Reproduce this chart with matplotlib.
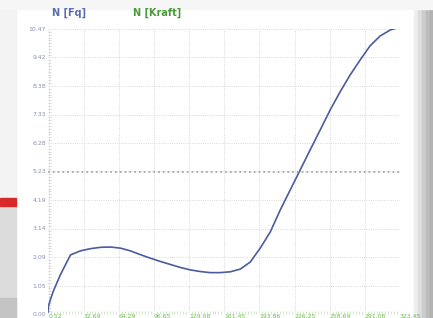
import numpy as np
import matplotlib.pyplot as plt
from matplotlib.patches import Rectangle

# curve (x in tick units, y in N)
x_vals = [0.0, 0.5, 2.4, 5.0, 11.5, 20.7, 29.9, 39.0, 48.2, 57.4, 66.5, 75.7,
          84.9, 94.1, 103.3, 112.4, 121.6, 130.8, 140.0, 149.1, 158.3, 167.5,
          176.7, 185.9, 195.0, 204.2, 213.4, 222.6, 231.7, 240.9, 250.1, 259.2,
          268.4, 277.6, 286.8, 295.9, 305.1, 314.3, 320.7]
y_vals = [0.07, 0.30, 0.55, 0.85, 1.45, 2.17, 2.32, 2.40, 2.45, 2.46, 2.42, 2.32,
          2.18, 2.05, 1.93, 1.82, 1.71, 1.62, 1.56, 1.52, 1.52, 1.55,
          1.65, 1.91, 2.42, 3.01, 3.82, 4.56, 5.29, 6.03, 6.76, 7.49,
          8.16, 8.78, 9.33, 9.85, 10.21, 10.43, 10.51]

x_labels = ["0.52", "32.69", "64.29", "96.65", "129.08", "161.45",
            "193.86", "226.25", "258.69", "291.08", "323.45"]
y_labels = ["0.00", "1.05", "2.09", "3.14", "4.19", "5.23",
            "6.28", "7.33", "8.38", "9.42", "10.47"]

W, H = 433, 318
fig = plt.figure(figsize=(W / 100, H / 100), dpi=100)
fig.patch.set_facecolor("white")

# photo background bits: red bar and grey margins
bg = fig.add_axes([0, 0, 1, 1])
bg.set_xlim(0, W)
bg.set_ylim(H, 0)
bg.axis("off")
bg.add_patch(Rectangle((0, 10), 16, 188, color="#f3f3f3"))
bg.add_patch(Rectangle((0, 206), 16, 112, color="#dcdcdc"))
bg.add_patch(Rectangle((0, 298), 16, 20, color="#c4c4c4"))
bg.add_patch(Rectangle((0, 198), 16, 8, color="#d62a2a"))
for i, c in enumerate(["#eeeeee", "#dedede", "#cdcdcd", "#bdbdbd", "#b2b2b2"]):
    bg.add_patch(Rectangle((414 + i * 4, 10), 4, H, color=c))
bg.add_patch(Rectangle((0, 0), W, 9, color="#f6f6f6"))

ax = fig.add_axes([48 / W, 1 - 314 / H, 352 / W, 285 / H])
ax.patch.set_alpha(0)
ax.plot(x_vals, y_vals, color="#4b5b9c", lw=1.2)

ax.set_xlim(0.52 - 0.5, 323.45)
ax.set_ylim(0, 10.47)
xt = np.linspace(0.52, 323.45, 11)
yt = np.linspace(0, 10.47, 11)
ax.set_xticks(xt)
ax.set_xticklabels(x_labels)
ax.set_yticks(yt)
ax.set_yticklabels(y_labels)
for lab in ax.get_xticklabels():
    lab.set_ha("left")
ax.tick_params(axis="x", length=0, pad=0, labelsize=4.4, labelcolor="#6cbf4a")
ax.tick_params(axis="y", length=0, pad=1.5, labelsize=4.4, labelcolor="#8a90b4")

ax.set_xticks(np.linspace(0.52, 323.45, 121), minor=True)
ax.set_yticks(np.linspace(0, 10.47, 101), minor=True)
ax.tick_params(axis="x", which="minor", length=2, width=0.4, color="#a8d89a", direction="in")
ax.tick_params(axis="y", which="minor", length=2, width=0.4, color="#c0c0c0", direction="in")

ax.grid(True, which="major", ls=":", lw=0.6, color="#cdcdcd")
for s in ax.spines.values():
    s.set_visible(False)
ax.axhline(5.23, ls=":", lw=1.3, color="#a8a8a8")

fig.text(52 / W, 1 - 13 / H, "N [Fq]", color="#5a6db0", fontsize=7,
         fontweight="bold", va="center")
fig.text(133 / W, 1 - 13 / H, "N [Kraft]", color="#4a9a3a", fontsize=7,
         fontweight="bold", va="center")

fig.savefig("out.png", dpi=100)
